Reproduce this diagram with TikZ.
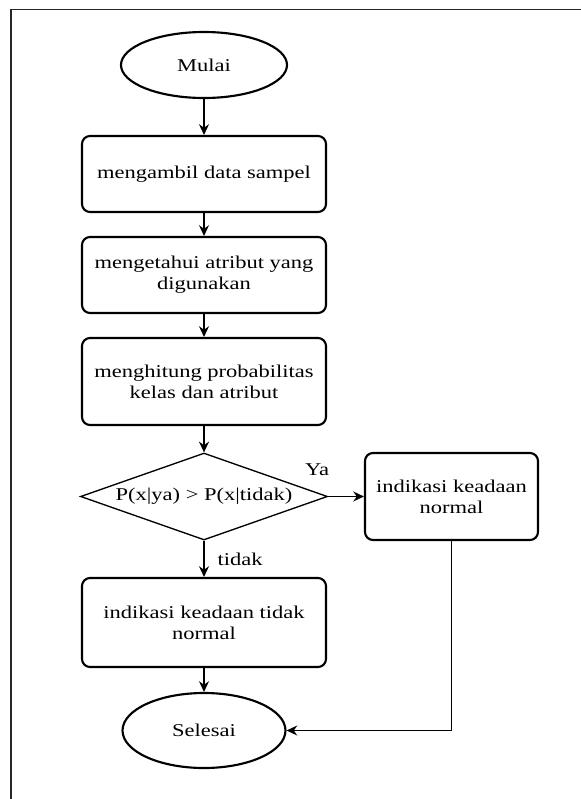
\documentclass[tikz,border=0pt]{standalone}
\usepackage{fontspec}
\setmainfont{Liberation Serif}[FakeStretch=1.25]
\usetikzlibrary{shapes.geometric,arrows.meta}
\newdimen\pxu \pxu=0.75pt
\begin{document}
\begin{tikzpicture}[x=0.75pt,y=-0.75pt,
  every node/.style={font=\fontsize{13.5}{15.75}\selectfont},
  proc/.style={draw,line width=1.6pt,rounded corners=6pt,minimum width=244\pxu,align=center,inner sep=0pt},
  term/.style={draw,ellipse,line width=1.6pt,inner sep=0pt},
  dec/.style={draw,diamond,line width=1pt,aspect=2.84,minimum width=247\pxu,minimum height=87\pxu,inner sep=0pt},
  flow/.style={-{Stealth[length=8pt,width=7.5pt]},line width=1pt},
  lbl/.style={inner sep=0pt},
  frame/.style={line width=1.1pt,black!85}
]
\useasboundingbox (0,0) rectangle (581,799);
\draw[frame] (11,799) -- (11,9.5) -- (581,9.5);

\node[term,minimum width=166\pxu,minimum height=66\pxu] (start) at (204,65) {Mulai};
\node[proc,minimum height=76\pxu] (b1) at (204,174) {mengambil data sampel};
\node[proc,minimum height=76\pxu] (b2) at (204,275) {mengetahui atribut yang\\digunakan};
\node[proc,minimum height=87\pxu] (b3) at (204,381.5) {menghitung probabilitas\\kelas dan atribut};
\node[dec] (d) at (204,496.5) {P(x|ya) > P(x|tidak)};
\node[proc,minimum width=173\pxu,minimum height=87\pxu] (r) at (451.5,496.5) {indikasi keadaan\\normal};
\node[proc,minimum height=89\pxu] (b4) at (204,622.5) {indikasi keadaan tidak\\normal};
\node[term,minimum width=163\pxu,minimum height=75\pxu] (end) at (204,730.5) {Selesai};
\node[lbl] (ya) at (317,470) {Ya};
\node[lbl] (td) at (240,559) {tidak};

\draw[flow] (start.south) -- (b1.north);
\draw[flow] (b1.south) -- (b2.north);
\draw[flow] (b2.south) -- (b3.north);
\draw[flow] (b3.south) -- (d.north);
\draw[flow] (d.east) -- (r.west);
\draw[flow] (d.south) -- (b4.north);
\draw[flow] (b4.south) -- (end.north);
\draw[flow] (r.south) |- (end.east);
\end{tikzpicture}
\end{document}
